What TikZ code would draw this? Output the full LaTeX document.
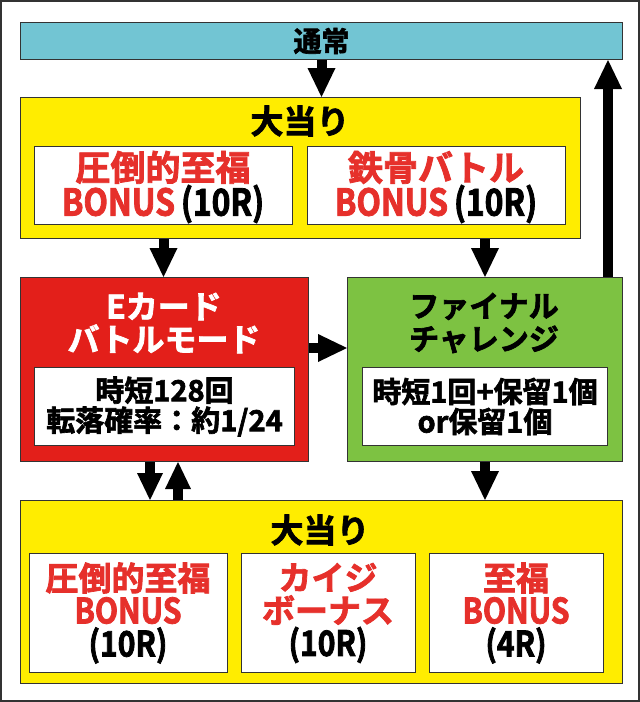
\documentclass[tikz,border=0pt]{standalone}
\usepackage{fontspec}
\setmainfont{Noto Sans CJK JP Bold}[FakeBold=2.2]
\newfontfamily\lat{Noto Sans CJK JP Bold}[FakeStretch=0.86,FakeBold=2.2]
\usetikzlibrary{arrows.meta}
\definecolor{cyanbar}{HTML}{72C5D3}
\definecolor{yel}{HTML}{FFED00}
\definecolor{redbox}{HTML}{E31F1A}
\definecolor{grn}{HTML}{7DC242}
\definecolor{redtxt}{HTML}{E6302B}
\definecolor{edge}{HTML}{333333}
\tikzset{
  box/.style={draw=edge, line width=1pt, inner sep=0pt, anchor=north west, align=center},
  txt/.style={inner sep=0pt, align=center},
  bigarrow/.style={line width=10pt, -{Triangle[width=28pt,length=29pt,line width=0pt]}, black},
  smallarrow/.style={line width=10pt, -{Triangle[width=26pt,length=27pt,line width=0pt]}, black},
}
\newcommand\fs[1]{\fontsize{#1}{#1}\selectfont}
\newcommand\bon{{\lat\fontsize{37}{37}\selectfont BONUS}}
\newcommand\rr[1]{{\lat\fontsize{37}{37}\selectfont\color{black}(#1)}}
\newcommand\bonb{{\lat\fontsize{35}{35}\selectfont BONUS}}
\newcommand\rrb[1]{{\lat\fontsize{35}{35}\selectfont\color{black}(#1)}}
\begin{document}
\begin{tikzpicture}[x=1pt,y=-1pt]
\useasboundingbox (0,0) rectangle (640,702);
\fill[white] (0,0) rectangle (640,702);
\draw[edge, line width=2pt] (1,1) rectangle (639,701);

% top bar
\node[box, fill=cyanbar, minimum width=602pt, minimum height=37pt, font=\fs{28}] (tsujo) at (20,22) {通常};

% top jackpot
\node[box, fill=yel, minimum width=560pt, minimum height=141pt] (ya1) at (20,97) {};
\node[txt, font=\fs{33}] (t1) at (300,121) {大当り};
\node[box, fill=white, minimum width=258pt, minimum height=78pt] (wb1) at (34,146) {};
\node[txt, font=\fs{35}, text=redtxt] (wb1t) at (163,187)
  {圧倒的至福\\[0pt]\bon\,\rr{10R}};
\node[box, fill=white, minimum width=258pt, minimum height=78pt] (wb2) at (307,146) {};
\node[txt, font=\fs{35}, text=redtxt] (wb2t) at (436,187)
  {鉄骨バトル\\[0pt]\bon\,\rr{10R}};

% E card battle mode
\node[box, fill=redbox, minimum width=288pt, minimum height=184pt] (ebox) at (20,277) {};
\node[txt, font=\fs{32}, text=white] (et) at (164,323) {Eカード\\[1pt]バトルモード};
\node[box, fill=white, minimum width=260pt, minimum height=78pt, font=\fs{29}] (ein) at (34,367)
  {時短128回\\[1pt]転落確率：約1/24};

% final challenge
\node[box, fill=grn, minimum width=275pt, minimum height=184pt] (gbox) at (347,277) {};
\node[txt, font=\fs{30}] (gt) at (484,323) {ファイナル\\[3pt]チャレンジ};
\node[box, fill=white, minimum width=245pt, minimum height=78pt, font=\fs{29}] (gin) at (362,367)
  {時短1回+保留1個\\[1pt]or保留1個};

% bottom jackpot
\node[box, fill=yel, minimum width=602pt, minimum height=183pt] (ya2) at (20,500) {};
\node[txt, font=\fs{33}] (t2) at (320,530) {大当り};
\node[box, fill=white, minimum width=198pt, minimum height=119pt] (b1) at (29,553) {};
\node[txt, font=\fs{33}, text=redtxt] (b1t) at (128,613)
  {圧倒的至福\\[0pt]\bonb\\[0pt]\rrb{10R}};
\node[box, fill=white, minimum width=174pt, minimum height=119pt] (b2) at (241,553) {};
\node[txt, font=\fs{33}, text=redtxt] (b2t) at (328,613)
  {カイジ\\[0pt]ボーナス\\[0pt]\rrb{10R}};
\node[box, fill=white, minimum width=174pt, minimum height=119pt] (b3) at (429,553) {};
\node[txt, font=\fs{33}, text=redtxt] (b3t) at (516,613)
  {至福\\[0pt]\bonb\\[0pt]\rrb{4R}};

% helper coordinates
\coordinate (ay) at (0,348);
\coordinate (rx) at (608,0);
\coordinate (dx) at (150,0);
\coordinate (ux) at (178,0);

% arrows
\draw[bigarrow] (tsujo.south) -- (tsujo.south |- ya1.north);
\draw[bigarrow] (wb1.south |- ya1.south) -- (wb1.south |- ebox.north);
\draw[bigarrow] (gbox.north |- ya1.south) -- (gbox.north);
\draw[bigarrow] (ebox.east |- ay) -- (gbox.west |- ay);
\draw[bigarrow] (gbox.north -| rx) -- (tsujo.south -| rx);
\draw[smallarrow] (ebox.south -| dx) -- (ya2.north -| dx);
\draw[smallarrow] (ya2.north -| ux) -- (ebox.south -| ux);
\draw[bigarrow] (gbox.south) -- (gbox.south |- ya2.north);
\end{tikzpicture}
\end{document}
